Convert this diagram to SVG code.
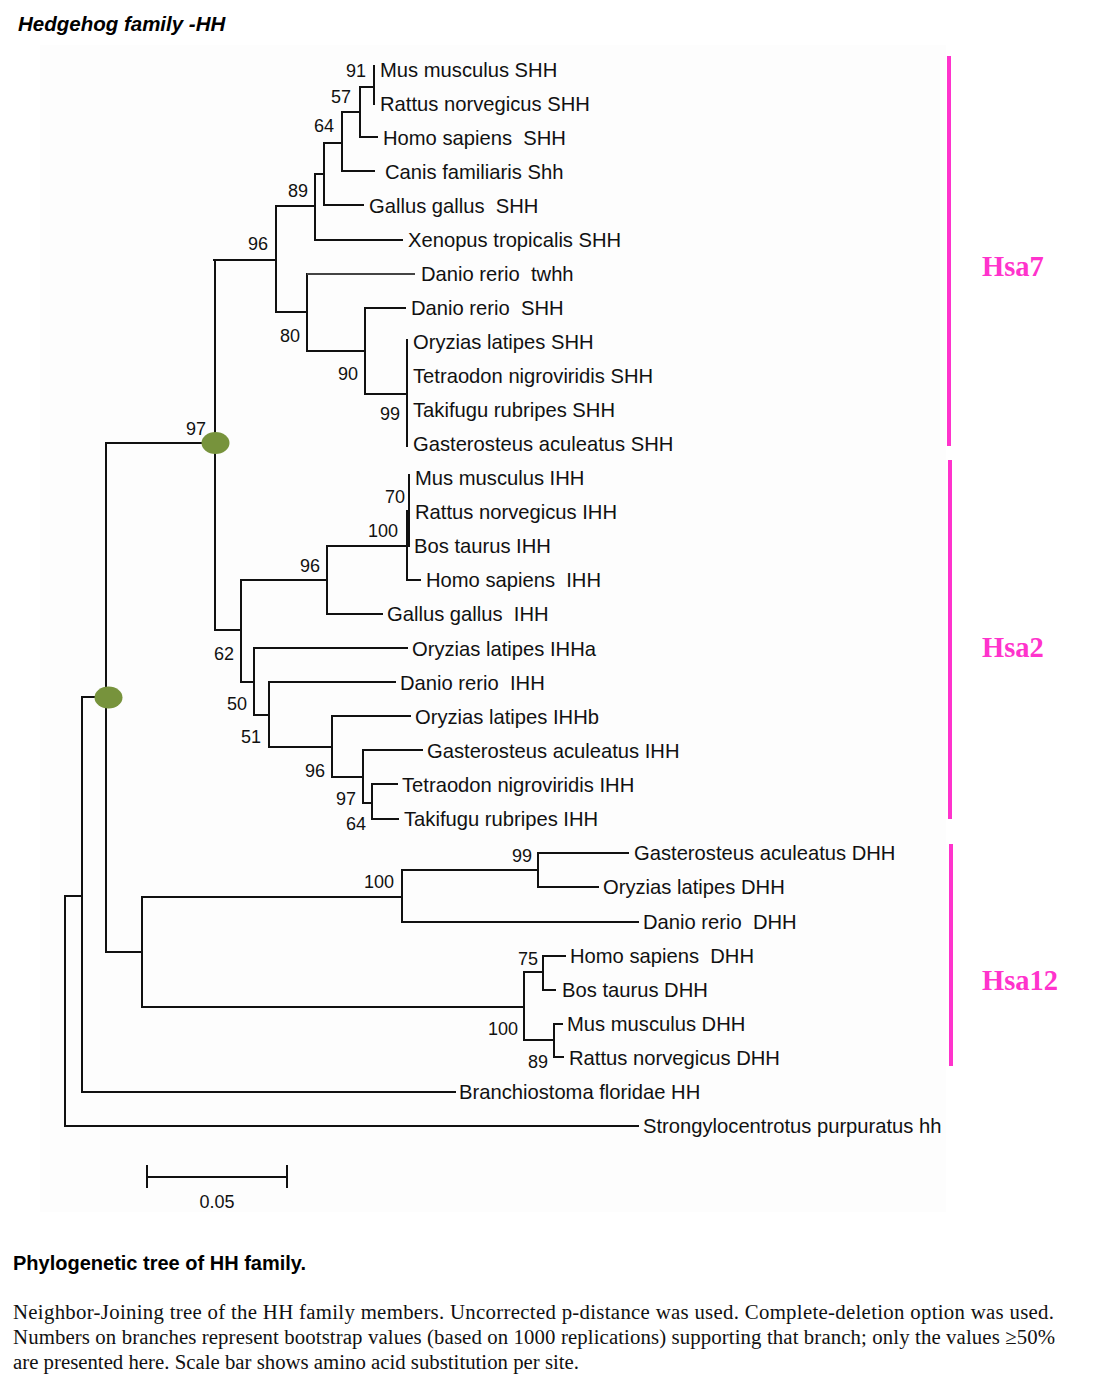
<svg xmlns="http://www.w3.org/2000/svg" width="1093" height="1388" viewBox="0 0 1093 1388" xml:space="preserve">
<style>
.leaf{font-family:"Liberation Sans",Arial,sans-serif;font-size:20.2px;fill:#111;white-space:pre}
.bs{font-family:"Liberation Sans",Arial,sans-serif;font-size:18px;fill:#111;text-anchor:end}
.br{fill:none;stroke:#111;stroke-width:2;stroke-linecap:square}
.hsa{font-family:"Liberation Serif","Times New Roman",serif;font-weight:bold;font-size:28.5px;fill:#ff33cc}
.bar{stroke:#ff33cc;stroke-width:4}
.dot{fill:#77933c}
.cap{font-family:"Liberation Serif","Times New Roman",serif;font-size:20.8px;fill:#111}
</style>
<rect width="1093" height="1388" fill="#ffffff"/>
<rect x="40" y="45" width="906" height="1167" fill="#fdfdfd"/>
<text x="18" y="31" font-family="Liberation Sans, Arial, sans-serif" font-size="20.5" font-weight="bold" font-style="italic" fill="#000">Hedgehog family -HH</text>

<g id="connectors">
<path class="br" d="M374,66 V104 M360,87 H374 M360,87 V137 H377 M342,112 H360 M342,112 V171 H374 M324,143 H342 M324,143 V205 H363 M315,174 H324 M315,174 V240 H402 M276,206 H315 M276,206 V312 H307 M214,260 H276 M307,274 V351 M307,351 H365 M365,308 V394 M365,308 H405 M365,394 H407 M407,340 V446"/>
<path d="M307,274 H415" fill="none" stroke="#444" stroke-width="2"/>
<path class="br" d="M106,443 H215 M215,260 V630 M215,630 H241 M241,580 V682 M241,580 H327 M327,546 V614 H382 M327,546 H407 M409,475 V546 M407,511 V546 M407,546 V580 H420 M241,682 H254 M254,648 V715 M254,648 H407 M254,715 H269 M269,682 V747 M269,682 H395 M269,747 H332 M332,716 V777 M332,716 H410 M332,777 H363 M363,750 V803 M363,750 H422 M363,803 H372 M372,784 V819 M372,784 H397 M372,819 H398"/>
<path class="br" d="M106,443 V952 M82,697 H108 M82,697 V1092 H455 M65,896 H82 M65,896 V1126 H638 M106,952 H142 M142,897 V1007 M142,897 H402 M402,870 V922 M402,870 H538 M538,853 V887 M538,853 H628 M538,887 H598 M402,922 H638 M142,1007 H524 M524,972 V1040 M524,972 H543 M543,956 V990 M543,956 H565 M543,990 H555 M524,1040 H554 M554,1024 V1057 M554,1024 H562 M554,1057 H563"/>
<g id="bootstrap">
<text class="bs" x="366" y="77">91</text>
<text class="bs" x="351" y="103">57</text>
<text class="bs" x="334" y="132">64</text>
<text class="bs" x="308" y="197">89</text>
<text class="bs" x="268" y="250">96</text>
<text class="bs" x="300" y="342">80</text>
<text class="bs" x="358" y="380">90</text>
<text class="bs" x="400" y="420">99</text>
<text class="bs" x="206" y="435">97</text>
<text class="bs" x="405" y="503">70</text>
<text class="bs" x="398" y="537">100</text>
<text class="bs" x="320" y="572">96</text>
<text class="bs" x="234" y="660">62</text>
<text class="bs" x="247" y="710">50</text>
<text class="bs" x="261" y="743">51</text>
<text class="bs" x="325" y="777">96</text>
<text class="bs" x="356" y="805">97</text>
<text class="bs" x="366" y="830">64</text>
<text class="bs" x="532" y="862">99</text>
<text class="bs" x="394" y="888">100</text>
<text class="bs" x="538" y="965">75</text>
<text class="bs" x="518" y="1035">100</text>
<text class="bs" x="548" y="1068">89</text>
</g>
</g>

<g id="node-shh-ihh"><ellipse class="dot" cx="215.5" cy="443" rx="14" ry="11"/></g>
<g id="node-vertebrate"><ellipse class="dot" cx="108.5" cy="697.5" rx="14" ry="11"/></g>

<g id="leaf-mus-shh"><text class="leaf" x="380" y="76.5">Mus musculus SHH</text></g>
<g id="leaf-rat-shh"><text class="leaf" x="380" y="110.5">Rattus norvegicus SHH</text></g>
<g id="leaf-homo-shh"><text class="leaf" x="383" y="144.5">Homo sapiens  SHH</text></g>
<g id="leaf-canis-shh"><text class="leaf" x="385" y="178.5">Canis familiaris Shh</text></g>
<g id="leaf-gallus-shh"><text class="leaf" x="369" y="212.5">Gallus gallus  SHH</text></g>
<g id="leaf-xenopus-shh"><text class="leaf" x="408" y="247">Xenopus tropicalis SHH</text></g>
<g id="leaf-danio-twhh"><text class="leaf" x="421" y="281">Danio rerio  twhh</text></g>
<g id="leaf-danio-shh"><text class="leaf" x="411" y="315">Danio rerio  SHH</text></g>
<g id="leaf-oryzias-shh"><text class="leaf" x="413" y="349">Oryzias latipes SHH</text></g>
<g id="leaf-tetra-shh"><text class="leaf" x="413" y="383">Tetraodon nigroviridis SHH</text></g>
<g id="leaf-taki-shh"><text class="leaf" x="413" y="417">Takifugu rubripes SHH</text></g>
<g id="leaf-gast-shh"><text class="leaf" x="413" y="451">Gasterosteus aculeatus SHH</text></g>

<g id="leaf-mus-ihh"><text class="leaf" x="415" y="485">Mus musculus IHH</text></g>
<g id="leaf-rat-ihh"><text class="leaf" x="415" y="519">Rattus norvegicus IHH</text></g>
<g id="leaf-bos-ihh"><text class="leaf" x="414" y="553">Bos taurus IHH</text></g>
<g id="leaf-homo-ihh"><text class="leaf" x="426" y="587">Homo sapiens  IHH</text></g>
<g id="leaf-gallus-ihh"><text class="leaf" x="387" y="621">Gallus gallus  IHH</text></g>
<g id="leaf-oryzias-ihha"><text class="leaf" x="412" y="655.5">Oryzias latipes IHHa</text></g>
<g id="leaf-danio-ihh"><text class="leaf" x="400" y="689.5">Danio rerio  IHH</text></g>
<g id="leaf-oryzias-ihhb"><text class="leaf" x="415" y="723.5">Oryzias latipes IHHb</text></g>
<g id="leaf-gast-ihh"><text class="leaf" x="427" y="757.5">Gasterosteus aculeatus IHH</text></g>
<g id="leaf-tetra-ihh"><text class="leaf" x="402" y="791.5">Tetraodon nigroviridis IHH</text></g>
<g id="leaf-taki-ihh"><text class="leaf" x="404" y="826">Takifugu rubripes IHH</text></g>

<g id="leaf-gast-dhh"><text class="leaf" x="634" y="860">Gasterosteus aculeatus DHH</text></g>
<g id="leaf-oryzias-dhh"><text class="leaf" x="603" y="894">Oryzias latipes DHH</text></g>
<g id="leaf-danio-dhh"><text class="leaf" x="643" y="928.5">Danio rerio  DHH</text></g>
<g id="leaf-homo-dhh"><text class="leaf" x="570" y="962.5">Homo sapiens  DHH</text></g>
<g id="leaf-bos-dhh"><text class="leaf" x="562" y="996.5">Bos taurus DHH</text></g>
<g id="leaf-mus-dhh"><text class="leaf" x="567" y="1030.5">Mus musculus DHH</text></g>
<g id="leaf-rat-dhh"><text class="leaf" x="569" y="1064.5">Rattus norvegicus DHH</text></g>
<g id="leaf-branchiostoma"><text class="leaf" x="459" y="1099">Branchiostoma floridae HH</text></g>
<g id="leaf-strongylocentrotus"><text class="leaf" x="643" y="1133">Strongylocentrotus purpuratus hh</text></g>

<g id="scale-bar">
<path class="br" d="M147,1177 H287 M147,1166 V1187 M287,1166 V1187"/>
<text x="217" y="1208" font-family="Liberation Sans, Arial, sans-serif" font-size="18" fill="#111" text-anchor="middle">0.05</text>
</g>

<g id="group-hsa7"><line class="bar" x1="949" y1="56" x2="949" y2="446"/><text class="hsa" x="982" y="276">Hsa7</text></g>
<g id="group-hsa2"><line class="bar" x1="950" y1="460" x2="950" y2="819"/><text class="hsa" x="982" y="657">Hsa2</text></g>
<g id="group-hsa12"><line class="bar" x1="951" y1="844" x2="951" y2="1066"/><text class="hsa" x="982" y="990">Hsa12</text></g>

<text x="13" y="1270" font-family="Liberation Sans, Arial, sans-serif" font-size="20" font-weight="bold" fill="#000">Phylogenetic tree of HH family.</text>
<text class="cap" x="13" y="1319" textLength="1041" lengthAdjust="spacing">Neighbor-Joining tree of the HH family members. Uncorrected p-distance was used. Complete-deletion option was used.</text>
<text class="cap" x="13" y="1344" textLength="1042" lengthAdjust="spacing">Numbers on branches represent bootstrap values (based on 1000 replications) supporting that branch; only the values ≥50%</text>
<text class="cap" x="13" y="1369">are presented here. Scale bar shows amino acid substitution per site.</text>
</svg>
